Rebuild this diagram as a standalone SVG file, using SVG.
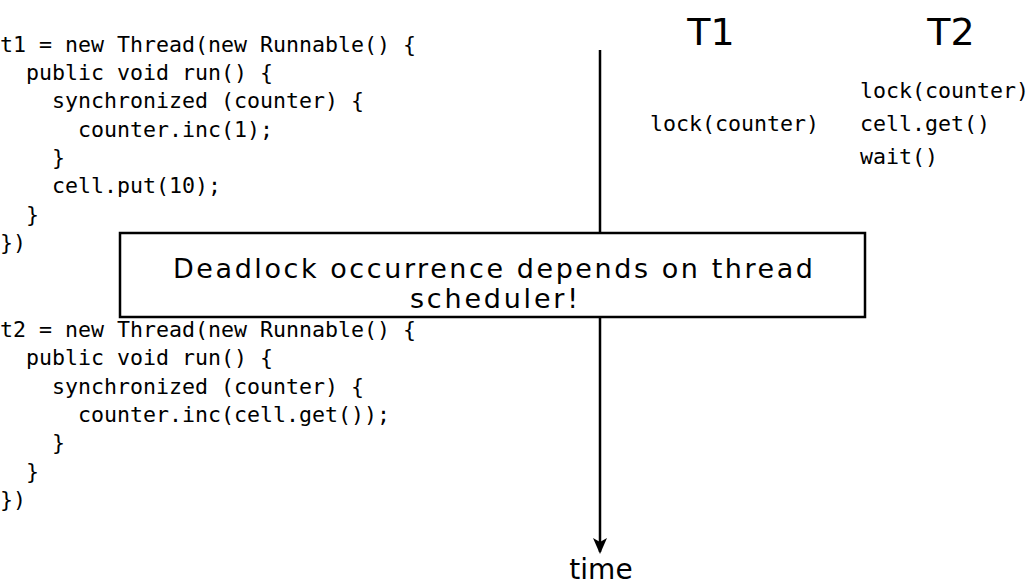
<svg xmlns="http://www.w3.org/2000/svg" width="1036" height="585" viewBox="0 0 1036 585">
<defs>
<style>
.code{font-family:"DejaVu Sans Mono","Liberation Mono",monospace;font-size:21.6px;fill:#000}
.hand{font-family:"DejaVu Sans","Liberation Sans",sans-serif;fill:#000}
.box{fill:#fff;stroke:#000;stroke-width:2.5}
.line{stroke:#000;stroke-width:2.5;fill:none}
</style>
<marker id="arr" viewBox="0 0 16 14" refX="14" refY="7" markerWidth="16" markerHeight="14" markerUnits="userSpaceOnUse" orient="auto">
<path d="M0,0 L16,7 L0,14 L4,7 z" fill="#000"/>
</marker>
</defs>
<rect width="1036" height="585" fill="#fff"/>
<g id="code-t1">
<text class="code" x="0" y="52">t1 = new Thread(new Runnable() {</text>
<text class="code" x="26" y="80">public void run() {</text>
<text class="code" x="52" y="108">synchronized (counter) {</text>
<text class="code" x="78" y="137">counter.inc(1);</text>
<text class="code" x="52" y="165">}</text>
<text class="code" x="52" y="193">cell.put(10);</text>
<text class="code" x="26" y="222">}</text>
<text class="code" x="0" y="250">})</text>
</g>
<g id="code-t2">
<text class="code" x="0" y="337">t2 = new Thread(new Runnable() {</text>
<text class="code" x="26" y="365">public void run() {</text>
<text class="code" x="52" y="394">synchronized (counter) {</text>
<text class="code" x="78" y="422">counter.inc(cell.get());</text>
<text class="code" x="52" y="450">}</text>
<text class="code" x="26" y="479">}</text>
<text class="code" x="0" y="507">})</text>
</g>
<g id="connectors">
<line class="line" x1="600" y1="50" x2="600" y2="552" marker-end="url(#arr)"/>
</g>
<g id="time-label">
<text class="hand" x="601" y="579" font-size="28" text-anchor="middle">time</text>
</g>
<g id="thread-T1">
<text class="hand" x="711" y="45" font-size="38" text-anchor="middle">T1</text>
<text class="code" x="650" y="131">lock(counter)</text>
</g>
<g id="thread-T2">
<text class="hand" x="951" y="45" font-size="38" text-anchor="middle">T2</text>
<text class="code" x="860" y="98">lock(counter)</text>
<text class="code" x="860" y="131">cell.get()</text>
<text class="code" x="860" y="164">wait()</text>
</g>
<g id="note">
<rect class="box" x="120" y="233" width="745" height="84"/>
<text class="hand" x="493" y="278" font-size="27" text-anchor="middle" textLength="640">Deadlock occurrence depends on thread</text>
<text class="hand" x="494" y="308" font-size="27" text-anchor="middle" textLength="168">scheduler!</text>
</g>
</svg>
